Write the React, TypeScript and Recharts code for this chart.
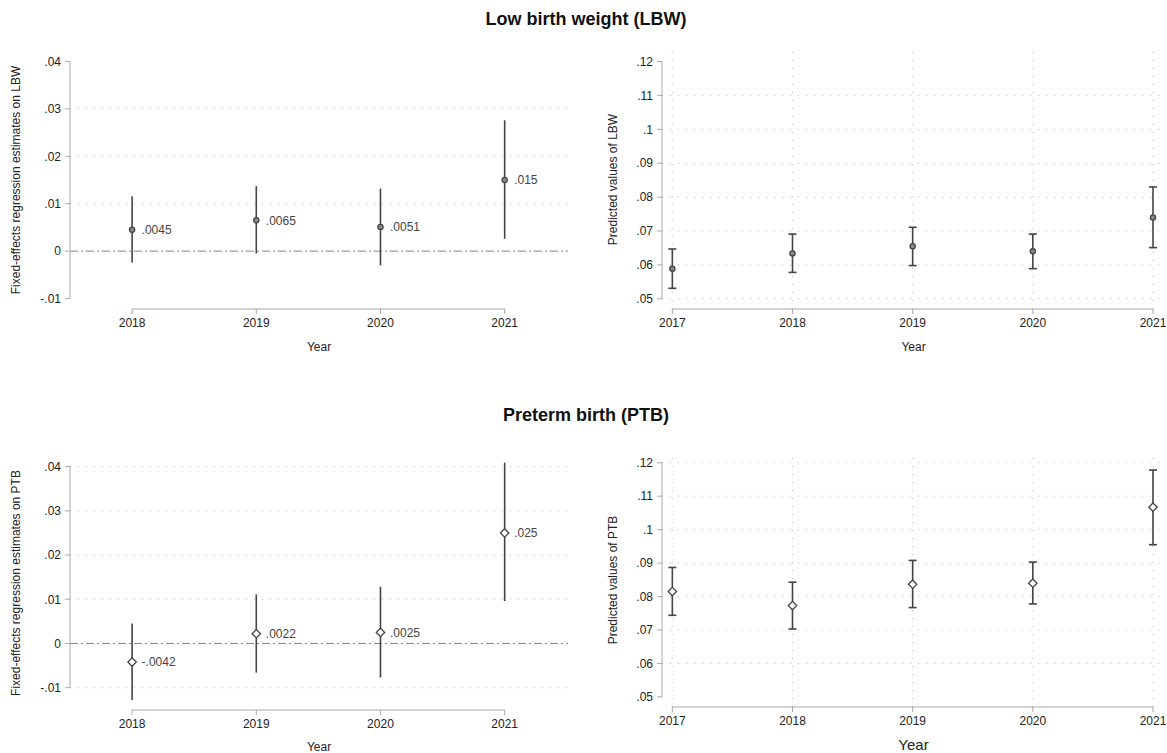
import {
  ScatterChart,
  Scatter,
  XAxis,
  YAxis,
  ReferenceLine,
  ErrorBar,
  LabelList,
} from 'recharts';

// years on the x axis
const estYears = [2018, 2019, 2020, 2021];
const predYears = [2017, 2018, 2019, 2020, 2021];

// fixed-effects estimates (left panels)
const lbwEst = [0.0045, 0.0065, 0.0051, 0.015];
const lbwEstLo = [-0.0024, -0.0005, -0.003, 0.0026];
const lbwEstHi = [0.0116, 0.0137, 0.0132, 0.0276];

const ptbEst = [-0.0042, 0.0022, 0.0025, 0.025];
const ptbEstLo = [-0.0128, -0.0066, -0.0077, 0.0096];
const ptbEstHi = [0.0045, 0.0111, 0.0128, 0.0409];

// predicted values (right panels)
const lbwPred = [0.0589, 0.0634, 0.0655, 0.064, 0.074];
const lbwPredLo = [0.0531, 0.0578, 0.0598, 0.0589, 0.0651];
const lbwPredHi = [0.0647, 0.0691, 0.0711, 0.0691, 0.083];

const ptbPred = [0.0815, 0.0773, 0.0837, 0.084, 0.1067];
const ptbPredLo = [0.0744, 0.0703, 0.0767, 0.0778, 0.0955];
const ptbPredHi = [0.0887, 0.0843, 0.0908, 0.0903, 0.1178];

// tick labels and grid rows
const estTicks = [-0.01, 0, 0.01, 0.02, 0.03, 0.04];
const predTicks = [0.05, 0.06, 0.07, 0.08, 0.09, 0.1, 0.11, 0.12];
const lbwEstGrid = [0.01, 0.02, 0.03];
const ptbEstGrid = [-0.01, 0.01, 0.02, 0.03, 0.04];
const lbwPredGrid = [0.05, 0.06, 0.07, 0.08, 0.09, 0.1, 0.11];
const ptbPredGrid = [0.06, 0.07, 0.08, 0.09, 0.1, 0.11, 0.12];

const FONT = '"Liberation Sans", Arial, Helvetica, sans-serif';
const AXIS = '#a8a8a8';
const INK = '#444';

const stata = (v: number) => (v === 0 ? '0' : String(v).replace('0.', '.'));

const build = (years: number[], vals: number[], lo: number[], hi: number[]) =>
  years.map((year, i) => ({
    year,
    value: vals[i],
    err: [vals[i] - lo[i], hi[i] - vals[i]],
  }));

const Dot = (props: any) => (
  <circle cx={props.cx} cy={props.cy} r={2.6} fill="#8a8a8a" stroke={INK} strokeWidth={1.3} />
);

const Diamond = (props: any) => {
  const { cx, cy } = props;
  const s = 4.2;
  return (
    <path
      d={`M${cx},${cy - s}L${cx + s},${cy}L${cx},${cy + s}L${cx - s},${cy}Z`}
      fill="#fff"
      stroke={INK}
      strokeWidth={1.3}
    />
  );
};

interface PanelProps {
  left: number;
  top: number;
  width: number;
  height: number;
  margin: { top: number; right: number; bottom: number; left: number };
  yAxisWidth: number;
  xAxisHeight: number;
  data: { year: number; value: number; err: number[] }[];
  xDomain: [number, number];
  yDomain: [number, number];
  xTicks: number[];
  yTicks: number[];
  hGrid: number[];
  vGrid: boolean;
  zeroLine: boolean;
  labels: boolean;
  diamond: boolean;
  cap: number;
  yLabel: string;
  yLabelOffset: number;
  xLabelSize: number;
  xLabelOffset: number;
}

function Panel(p: PanelProps) {
  return (
    <div style={{ position: 'absolute', left: p.left, top: p.top }}>
      <ScatterChart width={p.width} height={p.height} margin={p.margin}>
        <XAxis
          type="number"
          dataKey="year"
          domain={p.xDomain}
          ticks={p.xTicks}
          allowDataOverflow
          axisLine={false}
          tickLine={{ stroke: AXIS }}
          tickSize={5}
          tickMargin={4}
          height={p.xAxisHeight}
          tick={{ fontSize: 12, fill: '#222' }}
          tickFormatter={(v) => String(v)}
          label={{
            value: 'Year',
            position: 'insideBottom',
            offset: p.xLabelOffset,
            style: { fontSize: p.xLabelSize, fill: '#222' },
          }}
        />
        <YAxis
          type="number"
          dataKey="value"
          domain={p.yDomain}
          ticks={p.yTicks}
          allowDataOverflow
          axisLine={false}
          tickLine={{ stroke: AXIS }}
          tickSize={5}
          tickMargin={4}
          width={p.yAxisWidth}
          tick={{ fontSize: 12, fill: '#222' }}
          tickFormatter={stata}
          label={{
            value: p.yLabel,
            angle: -90,
            position: 'insideLeft',
            offset: p.yLabelOffset,
            style: { textAnchor: 'middle', fontSize: 12, fill: '#222' },
          }}
        />
        {p.hGrid.map((g) => (
          <ReferenceLine key={`h${g}`} y={g} stroke="#b8b8b8" strokeDasharray="1 7" ifOverflow="visible" />
        ))}
        {p.vGrid &&
          p.xTicks.map((t) => (
            <ReferenceLine key={`v${t}`} x={t} stroke="#b8b8b8" strokeDasharray="1 7" ifOverflow="visible" />
          ))}
        {p.zeroLine && (
          <ReferenceLine y={0} stroke="#888" strokeDasharray="8 3 2 3" ifOverflow="visible" />
        )}
        <ReferenceLine
          segment={[
            { x: p.xDomain[0], y: p.yTicks[0] },
            { x: p.xDomain[0], y: p.yTicks[p.yTicks.length - 1] },
          ]}
          stroke={AXIS}
          ifOverflow="visible"
        />
        <ReferenceLine
          segment={[
            { x: p.xTicks[0], y: p.yDomain[0] },
            { x: p.xTicks[p.xTicks.length - 1], y: p.yDomain[0] },
          ]}
          stroke={AXIS}
          ifOverflow="visible"
        />
        <Scatter data={p.data} isAnimationActive={false} shape={p.diamond ? Diamond : Dot}>
          <ErrorBar
            dataKey="err"
            direction="y"
            width={p.cap}
            stroke={INK}
            strokeWidth={1.6}
            isAnimationActive={false}
          />
          {p.labels && (
            <LabelList
              dataKey="value"
              position="right"
              offset={5}
              formatter={(v: any) => stata(Number(v))}
              style={{ fontSize: 12, fill: INK }}
            />
          )}
        </Scatter>
      </ScatterChart>
    </div>
  );
}

const titleStyle: React.CSSProperties = {
  position: 'absolute',
  left: 0,
  width: 1172,
  textAlign: 'center',
  fontWeight: 'bold',
  fontSize: 18,
  color: '#111',
};

export default function App() {
  return (
    <div
      style={{
        position: 'absolute',
        left: 0,
        top: 0,
        width: 1167,
        height: 753,
        background: '#fff',
        fontFamily: FONT,
        overflow: 'hidden',
      }}
    >
      <div style={{ ...titleStyle, top: 9 }}>Low birth weight (LBW)</div>
      <div style={{ ...titleStyle, top: 405 }}>Preterm birth (PTB)</div>

      <Panel
        left={0}
        top={0}
        width={580}
        height={370}
        margin={{ top: 51, right: 12, bottom: 11, left: 0 }}
        yAxisWidth={70}
        xAxisHeight={50}
        data={build(estYears, lbwEst, lbwEstLo, lbwEstHi)}
        xDomain={[2017.5, 2021.51]}
        yDomain={[-0.0122, 0.0422]}
        xTicks={estYears}
        yTicks={estTicks}
        hGrid={lbwEstGrid}
        vGrid={false}
        zeroLine
        labels
        diamond={false}
        cap={0}
        yLabel="Fixed-effects regression estimates on LBW"
        yLabelOffset={16}
        xLabelSize={12}
        xLabelOffset={8}
      />
      <Panel
        left={590}
        top={0}
        width={577}
        height={370}
        margin={{ top: 50, right: 2, bottom: 11, left: 2 }}
        yAxisWidth={70}
        xAxisHeight={50}
        data={build(predYears, lbwPred, lbwPredLo, lbwPredHi)}
        xDomain={[2016.914, 2021.1]}
        yDomain={[0.047, 0.1234]}
        xTicks={predYears}
        yTicks={predTicks}
        hGrid={lbwPredGrid}
        vGrid
        zeroLine={false}
        labels={false}
        diamond={false}
        cap={4}
        yLabel="Predicted values of LBW"
        yLabelOffset={21}
        xLabelSize={12}
        xLabelOffset={8}
      />
      <Panel
        left={0}
        top={400}
        width={580}
        height={353}
        margin={{ top: 56, right: 12, bottom: 0, left: 0 }}
        yAxisWidth={70}
        xAxisHeight={43}
        data={build(estYears, ptbEst, ptbEstLo, ptbEstHi)}
        xDomain={[2017.5, 2021.51]}
        yDomain={[-0.01505, 0.0424]}
        xTicks={estYears}
        yTicks={estTicks}
        hGrid={ptbEstGrid}
        vGrid={false}
        zeroLine
        labels
        diamond
        cap={0}
        yLabel="Fixed-effects regression estimates on PTB"
        yLabelOffset={16}
        xLabelSize={12}
        xLabelOffset={2}
      />
      <Panel
        left={590}
        top={400}
        width={577}
        height={353}
        margin={{ top: 53, right: 2, bottom: 0, left: 2 }}
        yAxisWidth={70}
        xAxisHeight={46}
        data={build(predYears, ptbPred, ptbPredLo, ptbPredHi)}
        xDomain={[2016.914, 2021.1]}
        yDomain={[0.047, 0.1229]}
        xTicks={predYears}
        yTicks={predTicks}
        hGrid={ptbPredGrid}
        vGrid
        zeroLine={false}
        labels={false}
        diamond
        cap={4}
        yLabel="Predicted values of PTB"
        yLabelOffset={21}
        xLabelSize={15}
        xLabelOffset={3}
      />
    </div>
  );
}
